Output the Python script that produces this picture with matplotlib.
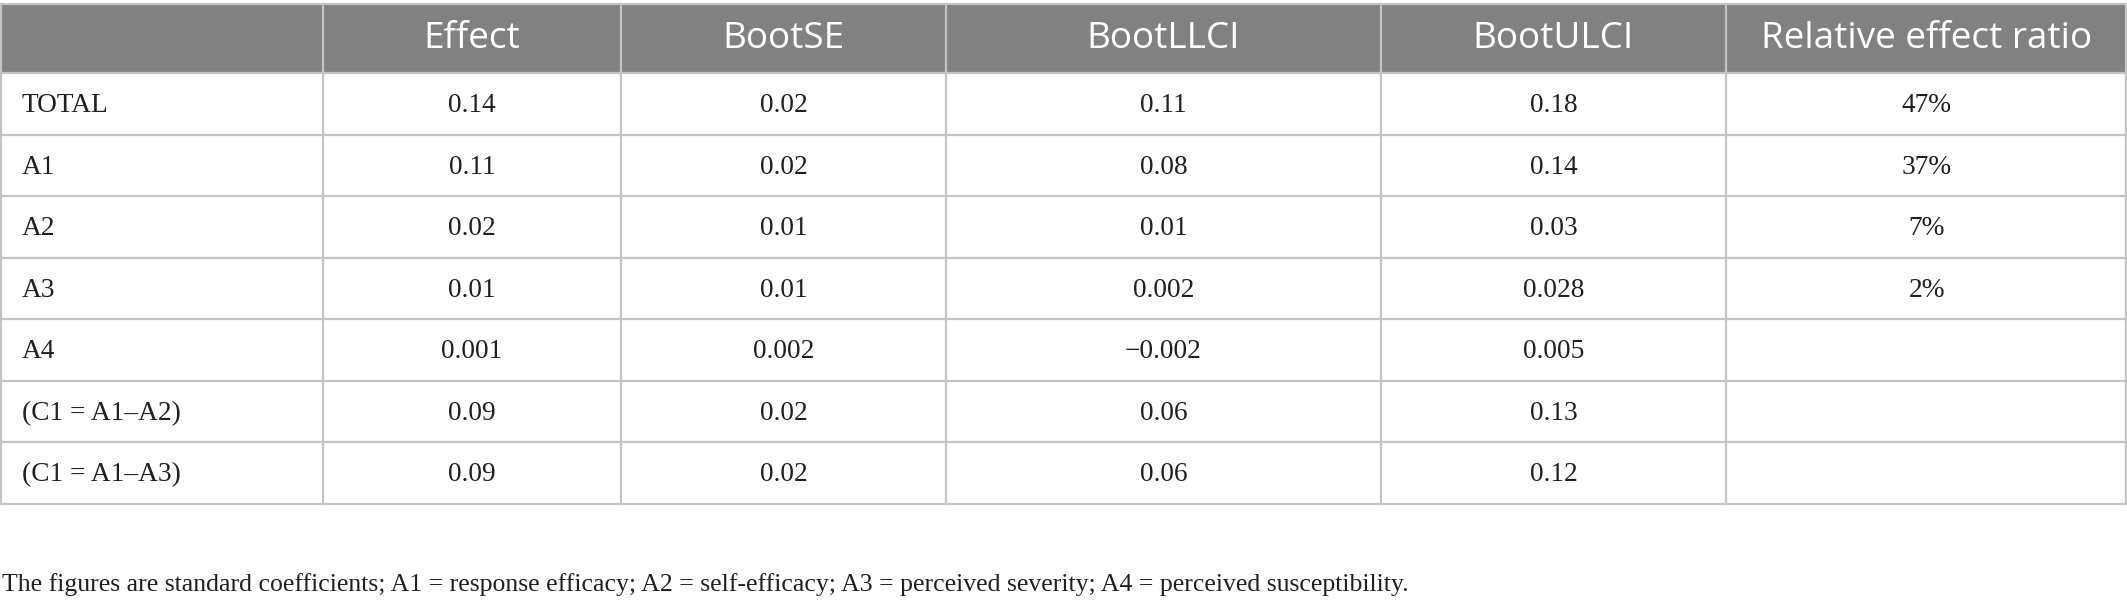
import matplotlib
matplotlib.use("Agg")
import matplotlib.pyplot as plt
from matplotlib.patches import Rectangle

# table contents
headers = ["", "Effect", "BootSE", "BootLLCI", "BootULCI", "Relative effect ratio"]
row_names = ["TOTAL", "A1", "A2", "A3", "A4", "(C1 = A1–A2)", "(C1 = A1–A3)"]
effect = ["0.14", "0.11", "0.02", "0.01", "0.001", "0.09", "0.09"]
boot_se = ["0.02", "0.02", "0.01", "0.01", "0.002", "0.02", "0.02"]
boot_llci = ["0.11", "0.08", "0.01", "0.002", "\u22120.002", "0.06", "0.06"]
boot_ulci = ["0.18", "0.14", "0.03", "0.028", "0.005", "0.13", "0.12"]
rel_ratio = ["47%", "37%", "7%", "2%", "", "", ""]
footnote = ("The figures are standard coefficients; A1 = response efficacy; "
            "A2 = self-efficacy; A3 = perceived severity; A4 = perceived susceptibility.")

W, H = 2127, 605
col_edges = [0, 323, 621, 946, 1381, 1726, 2127]
top, head_bot, row_h = 4, 73, 61.5

fig = plt.figure(figsize=(W / 100, H / 100), dpi=100)
ax = fig.add_axes([0, 0, 1, 1])
ax.set_xlim(0, W)
ax.set_ylim(H, 0)
ax.axis("off")

line_col = "#c4c4c4"
head_col = "#808180"

# header band
ax.add_patch(Rectangle((0, top), W, head_bot - top, facecolor=head_col, edgecolor="none"))
for i, h in enumerate(headers):
    cx = (col_edges[i] + col_edges[i + 1]) / 2
    ax.text(cx, (top + head_bot) / 2 + 1, h, color="white", fontsize=26.6,
            family="Open Sans", ha="center", va="center")

columns = [effect, boot_se, boot_llci, boot_ulci, rel_ratio]
n = len(row_names)
bottom = head_bot + n * row_h

for r in range(n):
    cy = head_bot + (r + 0.5) * row_h + 2
    ax.text(22, cy, row_names[r], fontsize=19.7, family="Liberation Serif",
            color="#231f20", ha="left", va="center")
    for c, col in enumerate(columns):
        cx = (col_edges[c + 1] + col_edges[c + 2]) / 2
        ax.text(cx, cy, col[r], fontsize=19.7, family="Liberation Serif",
                color="#231f20", ha="center", va="center")

# grid lines
ax.plot([0, W], [top, top], color=line_col, lw=1.6)
for r in range(n + 1):
    y = head_bot + r * row_h
    ax.plot([0, W], [y, y], color=line_col, lw=1.6)
for i, x in enumerate(col_edges):
    x = min(max(x, 1), W - 1)
    ax.plot([x, x], [top, bottom], color=line_col, lw=1.6)

ax.text(2, 591, footnote, fontsize=18.5, family="Liberation Serif",
        color="#231f20", ha="left", va="baseline")

fig.savefig("out.png", dpi=100)
